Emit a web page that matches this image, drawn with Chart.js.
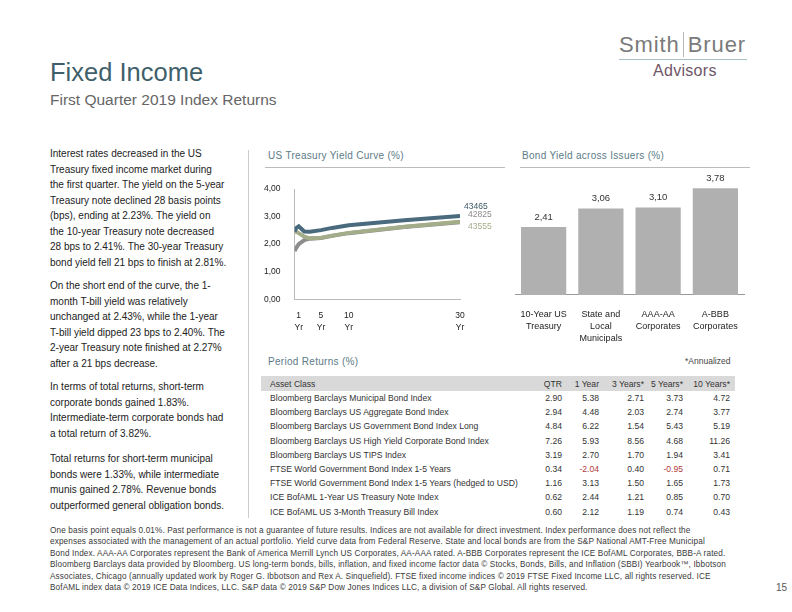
<!DOCTYPE html>
<html>
<head>
<meta charset="utf-8">
<script src="https://cdn.jsdelivr.net/npm/chart.js@4.4.1/dist/chart.umd.min.js"></script>
<style>
  body { margin: 0; width: 792px; height: 612px; background: #fff; font-family: "Liberation Sans", Arial, sans-serif; position: relative; overflow: hidden; }
  .abs { position: absolute; }
  #title { left: 50px; top: 58px; font-size: 25.5px; color: #3f5f6b; }
  #subtitle { left: 50px; top: 91px; font-size: 15.5px; color: #666; }
  #logo1 { left: 619px; top: 32px; font-size: 22px; color: #7a7a7a; letter-spacing: 0.9px; }
  #logo1 span { border-left: 1px solid #bbb; margin-left: 3px; padding-left: 4px; }
  #logoLine { left: 619px; top: 59px; width: 128px; height: 1px; background: #a8bfc8; }
  #logo2 { left: 653px; top: 62px; font-size: 16px; color: #6f5667; letter-spacing: 0.3px; }
  #leftText { left: 50px; top: 146px; font-size: 10px; line-height: 15.5px; color: #222; }
  #leftText p { margin: 0 0 8px 0; white-space: nowrap; }
  #sep { left: 248px; top: 150px; width: 1px; height: 368px; background: #ccc; }
  .ctitle { font-size: 10px; color: #5b7b87; letter-spacing: 0.3px; }
  .hline { height: 1px; background: #bbb; }
  #returns { left: 261px; top: 376px; border-collapse: collapse; font-size: 8.6px; color: #333; table-layout: fixed; }
  #returns th { background: #d9d9d9; font-weight: normal; height: 15px; padding: 0 3px; text-align: right; }
  #returns td { height: 14.2px; padding: 0 3px; text-align: right; white-space: nowrap; }
  #returns th:first-child, #returns td:first-child { text-align: left; padding-left: 9px; }
  #returns th:last-child, #returns td:last-child { padding-right: 5px; }
  #returns .neg { color: #b03a3a; }
  #footer { left: 50px; top: 525px; font-size: 8.2px; letter-spacing: 0.13px; line-height: 11.4px; color: #3a3a3a; white-space: nowrap; }
  #page { left: 776px; top: 582px; font-size: 10px; color: #555; }
</style>
</head>
<body>
<div class="abs" id="title">Fixed Income</div>
<div class="abs" id="subtitle">First Quarter 2019 Index Returns</div>
<div class="abs" id="logo1">Smith<span>Bruer</span></div>
<div class="abs" id="logoLine"></div>
<div class="abs" id="logo2">Advisors</div>

<div class="abs" id="leftText">
  <p>Interest rates decreased in the US<br>Treasury fixed income market during<br>the first quarter. The yield on the 5-year<br>Treasury note declined 28 basis points<br>(bps), ending at 2.23%. The yield on<br>the 10-year Treasury note decreased<br>28 bps to 2.41%. The 30-year Treasury<br>bond yield fell 21 bps to finish at 2.81%.</p>
  <p>On the short end of the curve, the 1-<br>month T-bill yield was relatively<br>unchanged at 2.43%, while the 1-year<br>T-bill yield dipped 23 bps to 2.40%. The<br>2-year Treasury note finished at 2.27%<br>after a 21 bps decrease.</p>
  <p style="margin-bottom:10px">In terms of total returns, short-term<br>corporate bonds gained 1.83%.<br>Intermediate-term corporate bonds had<br>a total return of 3.82%.</p>
  <p>Total returns for short-term municipal<br>bonds were 1.33%, while intermediate<br>munis gained 2.78%. Revenue bonds<br>outperformed general obligation bonds.</p>
</div>
<div class="abs" id="sep"></div>

<div class="abs ctitle" style="left:268px; top:150px;">US Treasury Yield Curve (%)</div>
<div class="abs hline" style="left:265px; top:167px; width:240px;"></div>
<div class="abs ctitle" style="left:522px; top:150px;">Bond Yield across Issuers (%)</div>
<div class="abs hline" style="left:520px; top:167px; width:230px;"></div>

<div class="abs" style="left:258px; top:178px; width:242px; height:159px;"><canvas id="curveChart"></canvas></div>
<div class="abs" style="left:505px; top:170px; width:245px; height:180px;"><canvas id="barChart"></canvas></div>

<div class="abs ctitle" style="left:268px; top:356px;">Period Returns (%)</div>
<div class="abs" style="left:685px; top:356px; font-size:8.5px; color:#444;">*Annualized</div>
<table class="abs" id="returns"><thead></thead><tbody></tbody></table>

<div class="abs" id="footer">One basis point equals 0.01%. Past performance is not a guarantee of future results. Indices are not available for direct investment. Index performance does not reflect the<br>expenses associated with the management of an actual portfolio. Yield curve data from Federal Reserve. State and local bonds are from the S&amp;P National AMT-Free Municipal<br>Bond Index. AAA-AA Corporates represent the Bank of America Merrill Lynch US Corporates, AA-AAA rated. A-BBB Corporates represent the ICE BofAML Corporates, BBB-A rated.<br>Bloomberg Barclays data provided by Bloomberg. US long-term bonds, bills, inflation, and fixed income factor data © Stocks, Bonds, Bills, and Inflation (SBBI) Yearbook™, Ibbotson<br>Associates, Chicago (annually updated work by Roger G. Ibbotson and Rex A. Sinquefield). FTSE fixed income indices © 2019 FTSE Fixed Income LLC, all rights reserved. ICE<br>BofAML index data © 2019 ICE Data Indices, LLC. S&amp;P data © 2019 S&amp;P Dow Jones Indices LLC, a division of S&amp;P Global. All rights reserved.</div>
<div class="abs" id="page">15</div>

<script>
// Yield curve data (maturity in years)
const maturities = [0.25, 0.5, 1, 2, 3, 5, 7, 10, 20, 30];
const curveDec2018 = [2.45, 2.58, 2.65, 2.46, 2.45, 2.51, 2.59, 2.69, 2.87, 3.02];
const curveMar2017 = [1.75, 1.85, 2.00, 2.15, 2.20, 2.22, 2.30, 2.40, 2.62, 2.80];
const curveMar2019 = [2.42, 2.46, 2.40, 2.27, 2.21, 2.23, 2.31, 2.41, 2.63, 2.81];
const curveNames = ['43465', '42825', '43555'];
const maturityTicks = [1, 5, 10, 30];

// Bond yields by issuer
const issuers = [['10-Year US', 'Treasury'], ['State and', 'Local', 'Municipals'], ['AAA-AA', 'Corporates'], ['A-BBB', 'Corporates']];
const issuerYields = [2.41, 3.06, 3.10, 3.78];

// Period returns table
const returnHeaders = ['Asset Class', 'QTR', '1 Year', '3 Years*', '5 Years*', '10 Years*'];
const assetClasses = [
    'Bloomberg Barclays Municipal Bond Index',
    'Bloomberg Barclays US Aggregate Bond Index',
    'Bloomberg Barclays US Government Bond Index Long',
    'Bloomberg Barclays US High Yield Corporate Bond Index',
    'Bloomberg Barclays US TIPS Index',
    'FTSE World Government Bond Index 1-5 Years',
    'FTSE World Government Bond Index 1-5 Years (hedged to USD)',
    'ICE BofAML 1-Year US Treasury Note Index',
    'ICE BofAML US 3-Month Treasury Bill Index'
];
const returnsQtr = [2.90, 2.94, 4.84, 7.26, 3.19, 0.34, 1.16, 0.62, 0.60];
const returns1y = [5.38, 4.48, 6.22, 5.93, 2.70, -2.04, 3.13, 2.44, 2.12];
const returns3y = [2.71, 2.03, 1.54, 8.56, 1.70, 0.40, 1.50, 1.21, 1.19];
const returns5y = [3.73, 2.74, 5.43, 4.68, 1.94, -0.95, 1.65, 0.85, 0.74];
const returns10y = [4.72, 3.77, 5.19, 11.26, 3.41, 0.71, 1.73, 0.70, 0.43];

const comma = v => v.toFixed(2).replace('.', ',');

// Build table (content widths, padding comes on top)
const thead = document.querySelector('#returns thead');
const colWidths = [267, 19, 31, 39, 33, 41];
let hr = '<tr>';
returnHeaders.forEach((h, i) => { hr += '<th style="width:' + colWidths[i] + 'px">' + h + '</th>'; });
thead.innerHTML = hr + '</tr>';
const tbody = document.querySelector('#returns tbody');
assetClasses.forEach((name, i) => {
    const vals = [returnsQtr[i], returns1y[i], returns3y[i], returns5y[i], returns10y[i]];
    let row = '<tr><td>' + name + '</td>';
    vals.forEach(v => { row += '<td' + (v < 0 ? ' class="neg"' : '') + '>' + v.toFixed(2) + '</td>'; });
    tbody.innerHTML += row + '</tr>';
});

Chart.defaults.font.family = '"Liberation Sans", Arial, sans-serif';
Chart.defaults.color = '#222';
Chart.defaults.animation = false;

// Labels at the right end of each curve
const endLabels = {
    id: 'endLabels',
    afterDatasetsDraw(chart) {
        const ctx = chart.ctx;
        ctx.save();
        ctx.font = '8.5px "Liberation Sans", Arial, sans-serif';
        ctx.textBaseline = 'middle';
        chart.data.datasets.forEach((ds, i) => {
            const meta = chart.getDatasetMeta(i);
            const last = meta.data[meta.data.length - 1];
            ctx.fillStyle = ds.labelColor;
            ctx.fillText(ds.label, chart.chartArea.right + ds.labelDx, last.y + ds.labelDy);
        });
        ctx.restore();
    }
};

new Chart(document.getElementById('curveChart'), {
    type: 'line',
    data: {
        datasets: [
            { label: curveNames[0], data: maturities.map((m, i) => ({ x: m, y: curveDec2018[i] })), borderColor: '#4a6b7d', labelColor: '#3e5a6a', labelDx: 4, labelDy: -9, order: 0 },
            { label: curveNames[1], data: maturities.map((m, i) => ({ x: m, y: curveMar2017[i] })), borderColor: '#8c8c8c', labelColor: '#8c8c8c', labelDx: 8, labelDy: -7, order: 2 },
            { label: curveNames[2], data: maturities.map((m, i) => ({ x: m, y: curveMar2019[i] })), borderColor: '#a4ad8a', labelColor: '#a4ad8a', labelDx: 8, labelDy: 5, order: 1 }
        ].map(d => Object.assign(d, { borderWidth: 4, pointRadius: 0, tension: 0, fill: false }))
    },
    options: {
        responsive: true,
        maintainAspectRatio: false,
        layout: { padding: { top: 6, right: 40, left: 0, bottom: 0 } },
        plugins: { legend: { display: false }, tooltip: { enabled: false } },
        scales: {
            x: {
                type: 'linear', min: 0.25, max: 30,
                grid: { display: false },
                border: { color: '#bbb' },
                afterBuildTicks: axis => { axis.ticks = maturityTicks.map(v => ({ value: v })); },
                ticks: { font: { size: 8.5, lineHeight: 1.4 }, padding: 3, maxRotation: 0, autoSkip: false, callback: v => [String(v), 'Yr'] }
            },
            y: {
                min: 0, max: 4,
                grid: { display: false },
                border: { color: '#bbb' },
                ticks: { stepSize: 1, font: { size: 8.5 }, padding: 6, callback: v => comma(v) }
            }
        }
    },
    plugins: [endLabels]
});

// Value labels above bars
const barValues = {
    id: 'barValues',
    afterDatasetsDraw(chart) {
        const ctx = chart.ctx;
        ctx.save();
        ctx.font = '9.5px "Liberation Sans", Arial, sans-serif';
        ctx.fillStyle = '#333';
        ctx.textAlign = 'center';
        ctx.textBaseline = 'bottom';
        chart.getDatasetMeta(0).data.forEach((bar, i) => {
            ctx.fillText(comma(chart.data.datasets[0].data[i]), bar.x, bar.y - 5);
        });
        ctx.restore();
    }
};

new Chart(document.getElementById('barChart'), {
    type: 'bar',
    data: {
        labels: issuers,
        datasets: [{ data: issuerYields, backgroundColor: '#b0b0b0', barPercentage: 0.79, categoryPercentage: 1 }]
    },
    options: {
        responsive: true,
        maintainAspectRatio: false,
        layout: { padding: { top: 12, right: 6, left: 10, bottom: 0 } },
        plugins: { legend: { display: false }, tooltip: { enabled: false } },
        scales: {
            x: {
                grid: { display: false },
                border: { color: '#999' },
                ticks: { font: { size: 9, lineHeight: 1.3 }, color: '#222', padding: 6, maxRotation: 0, autoSkip: false }
            },
            y: { display: false, min: 0, max: 4 }
        }
    },
    plugins: [barValues]
});
</script>
</body>
</html>
